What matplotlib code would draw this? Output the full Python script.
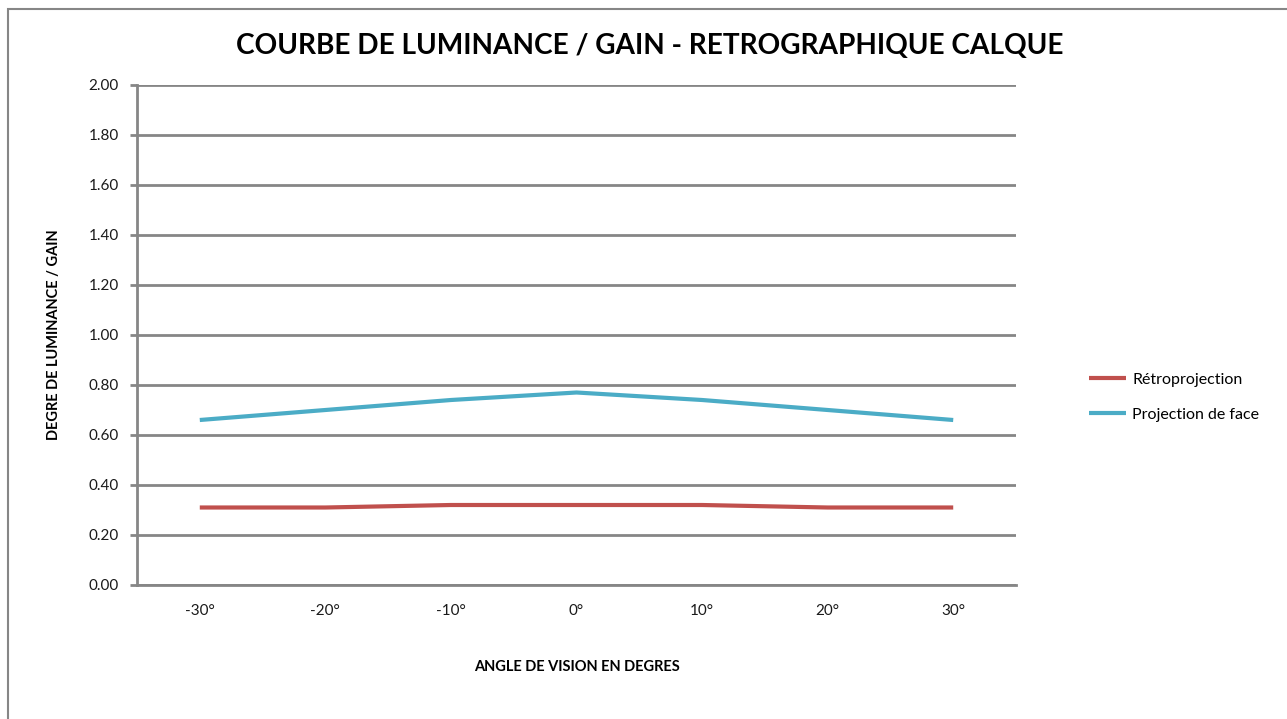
import matplotlib
matplotlib.use("Agg")
import matplotlib.pyplot as plt
from matplotlib.patches import Rectangle

categories = ["-30°", "-20°", "-10°", "0°", "10°", "20°", "30°"]
retro = [0.31, 0.31, 0.32, 0.32, 0.32, 0.31, 0.31]
face = [0.66, 0.70, 0.74, 0.77, 0.74, 0.70, 0.66]
yticks = [0.0, 0.2, 0.4, 0.6, 0.8, 1.0, 1.2, 1.4, 1.6, 1.8, 2.0]

plt.rcParams['font.family'] = ['Lato', 'DejaVu Sans']

W, H = 1287, 719
fig = plt.figure(figsize=(W / 100, H / 100), dpi=100)
fig.patch.set_facecolor("white")

# chart border (left and top visible)
fig.patches.append(Rectangle((8 / W, -0.05), 1.2, 1 - 9 / H + 0.05,
                             transform=fig.transFigure, fill=False,
                             edgecolor="#868686", linewidth=1.5))

ax = fig.add_axes([137 / W, 1 - 585 / H, (1016 - 137) / W, (585 - 85) / H])
x = list(range(len(categories)))
ax.plot(x, retro, color="#C0504D", linewidth=3.0, label="Rétroprojection",
        solid_capstyle="butt")
ax.plot(x, face, color="#4BACC6", linewidth=3.0, label="Projection de face",
        solid_capstyle="butt")

ax.set_xlim(-0.5, len(categories) - 0.5)
ax.set_ylim(0, 2.0)
ax.set_yticks(yticks)
ax.set_yticklabels([f"{v:.2f}" for v in yticks], fontsize=11, color="#1a1a1a")
ax.set_xticks(x)
ax.set_xticklabels(categories, fontsize=11, color="#1a1a1a")
ax.tick_params(axis="x", length=0, pad=14)
ax.tick_params(axis="y", length=5, width=2, color="#868686", pad=8)
ax.grid(axis="y", color="#868686", linewidth=2)
ax.set_axisbelow(True)
for s in ["top", "right"]:
    ax.spines[s].set_visible(False)
ax.spines["left"].set_color("#868686")
ax.spines["left"].set_linewidth(2)
ax.spines["bottom"].set_color("#868686")
ax.spines["bottom"].set_linewidth(2)

ax.set_xlabel("ANGLE DE VISION EN DEGRES", fontsize=10.5, fontweight="bold",
              labelpad=30)
ax.set_ylabel("DEGRE DE LUMINANCE / GAIN", fontsize=10.5, fontweight="bold",
              labelpad=20)

fig.text(650 / W, 1 - 46 / H, "COURBE DE LUMINANCE / GAIN - RETROGRAPHIQUE CALQUE",
         fontsize=20.2, fontweight="bold", ha="center", va="center")

leg = ax.legend(loc="center left", bbox_to_anchor=(1075 / W, 1 - 397 / H),
                bbox_transform=fig.transFigure, frameon=False, fontsize=11.5,
                handlelength=2.3, labelspacing=1.3, handletextpad=0.4)

fig.savefig("out.png", dpi=100)
